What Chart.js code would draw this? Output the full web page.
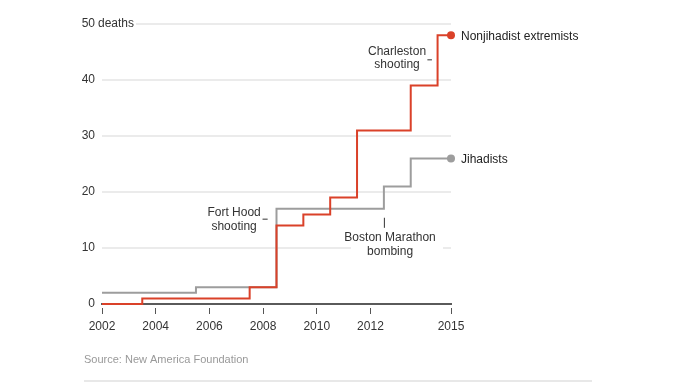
<!DOCTYPE html>
<html><head><meta charset="utf-8">
<script src="https://cdn.jsdelivr.net/npm/chart.js@4"></script>
<style>html,body{margin:0;padding:0;background:#fff}canvas{display:block}</style>
</head><body>
<canvas id="c" width="690" height="388"></canvas>
<script>
const years = [2002,2003,2004,2005,2006,2007,2008,2009,2010,2011,2012,2013,2014,2015];
const nonjihadist = [0,0,1,1,1,1,3,14,16,19,31,31,39,48];
const jihadist = [2,2,2,2,3,3,3,17,17,17,17,21,26,26];
const xTickYears = [2002,2004,2006,2008,2010,2012,2015];
const yTickValues = [0,10,20,30,40,50];
const seriesLabels = ['Nonjihadist extremists','Jihadists'];
const yUnit = 'deaths';
const sourceText = 'Source: New America Foundation';
const annotationTexts = [['Fort Hood','shooting'],['Charleston','shooting'],['Boston Marathon','bombing']];

const FONT = '"Liberation Sans", Arial, Helvetica, sans-serif';
const RED = '#da4129';
const GRAY = '#9d9d9d';

Chart.defaults.font.family = FONT;
Chart.defaults.font.size = 12;
Chart.defaults.color = '#333';

function pts(vals){ return years.map((y,i)=>({x:y, y:vals[i]})); }
function lastDot(){ return ctx => ctx.dataIndex === years.length-1 ? 4 : 0; }

const extras = {
  id:'extras',
  afterDraw(chart){
    const c = chart.ctx, xs = chart.scales.x, ys = chart.scales.y;
    c.save();
    c.font = '12px ' + FONT;
    c.textBaseline = 'middle';
    // unit after top tick
    const y50 = ys.getPixelForValue(yTickValues[yTickValues.length-1]);
    const ux = ys.right - 4;
    const uw = c.measureText(yUnit).width;
    c.fillStyle = '#fff';
    c.fillRect(ux, y50-4, uw+2, 8);
    c.fillStyle = '#333';
    c.textAlign = 'left';
    c.fillText(yUnit, ux, y50);

    // end labels
    chart.data.datasets.forEach((ds, i) => {
      const meta = chart.getDatasetMeta(i);
      const p = meta.data[meta.data.length-1];
      c.fillStyle = '#222';
      c.fillText(seriesLabels[i], p.x + 10, p.y + 1);
    });

    const X = v => xs.getPixelForValue(v), Y = v => ys.getPixelForValue(v);
    c.strokeStyle = '#333'; c.lineWidth = 1;
    c.textAlign = 'center';
    // Fort Hood
    let cx = X(2006.92), cy = Y(16.3);
    c.fillStyle = '#333';
    c.fillText(annotationTexts[0][0], cx, cy);
    c.fillText(annotationTexts[0][1], cx, cy + 14);
    c.beginPath(); c.moveTo(X(2007.98), Y(15.15)); c.lineTo(X(2008.17), Y(15.15)); c.stroke();
    // Charleston
    cx = X(2012.99); cy = Y(45.05);
    c.fillText(annotationTexts[1][0], cx, cy);
    c.fillText(annotationTexts[1][1], cx, cy + 13);
    c.beginPath(); c.moveTo(X(2014.12), Y(43.6)); c.lineTo(X(2014.29), Y(43.6)); c.stroke();
    // Boston
    cx = X(2012.73); cy = Y(11.8);
    c.fillStyle = '#fff';
    c.fillRect(X(2011.27), cy - 8, X(2015) - X(2011.27) - 8, 30);
    c.fillStyle = '#333';
    c.fillText(annotationTexts[2][0], cx, cy);
    c.fillText(annotationTexts[2][1], cx, cy + 14);
    c.beginPath(); c.moveTo(X(2012.5)+0.5, Y(15.4)); c.lineTo(X(2012.5)+0.5, Y(13.6)); c.stroke();

    // source + bottom rule
    c.textAlign = 'left';
    c.font = '11px ' + FONT;
    c.fillStyle = '#999';
    c.fillText(sourceText, 84, 360);
    c.fillStyle = '#e8e8e8';
    c.fillRect(84, 380, 508, 2);
    c.restore();
  }
};

new Chart(document.getElementById('c'), {
  type: 'line',
  data: {
    datasets: [
      { label: seriesLabels[0], data: pts(nonjihadist), borderColor: RED, backgroundColor: RED,
        borderWidth: 2, stepped: 'middle', pointRadius: lastDot(), pointHoverRadius: 0,
        pointBorderWidth: 0, clip: false, borderJoinStyle: 'miter', borderCapStyle: 'butt', order: 0 },
      { label: seriesLabels[1], data: pts(jihadist), borderColor: GRAY, backgroundColor: GRAY,
        borderWidth: 2, stepped: 'middle', pointRadius: lastDot(), pointHoverRadius: 0,
        pointBorderWidth: 0, clip: false, borderJoinStyle: 'miter', borderCapStyle: 'butt', order: 1 }
    ]
  },
  options: {
    responsive: false,
    devicePixelRatio: 1,
    animation: false,
    events: [],
    layout: { padding: { left: 0, right: 239, top: 24, bottom: 0 } },
    plugins: { legend: { display: false }, tooltip: { enabled: false } },
    scales: {
      x: {
        type: 'linear', min: 2002, max: 2015,
        afterBuildTicks: s => { s.ticks = xTickYears.map(v => ({ value: v })); },
        afterFit: s => { s.height = 84; },
        grid: { drawOnChartArea: false, drawTicks: true, tickLength: 10, tickColor: '#555', tickWidth: 1,
                tickBorderDash: [0, 3, 6, 20] },
        border: { display: true, color: '#5a5a5a', width: 2 },
        ticks: { padding: 5, color: '#333', font: { size: 12 }, maxRotation: 0, autoSkip: false,
                 callback: v => String(v) }
      },
      y: {
        min: 0, max: 50,
        afterBuildTicks: s => { s.ticks = yTickValues.map(v => ({ value: v })); },
        afterFit: s => { s.width = 102; },
        grid: { drawTicks: false, lineWidth: 2,
                color: ctx => (ctx.tick && ctx.tick.value === 0) ? 'rgba(0,0,0,0)' : '#ebebeb' },
        border: { display: false },
        ticks: { padding: 7, color: '#333', font: { size: 12 }, callback: v => String(v) }
      }
    }
  },
  plugins: [extras]
});
</script>
</body></html>
